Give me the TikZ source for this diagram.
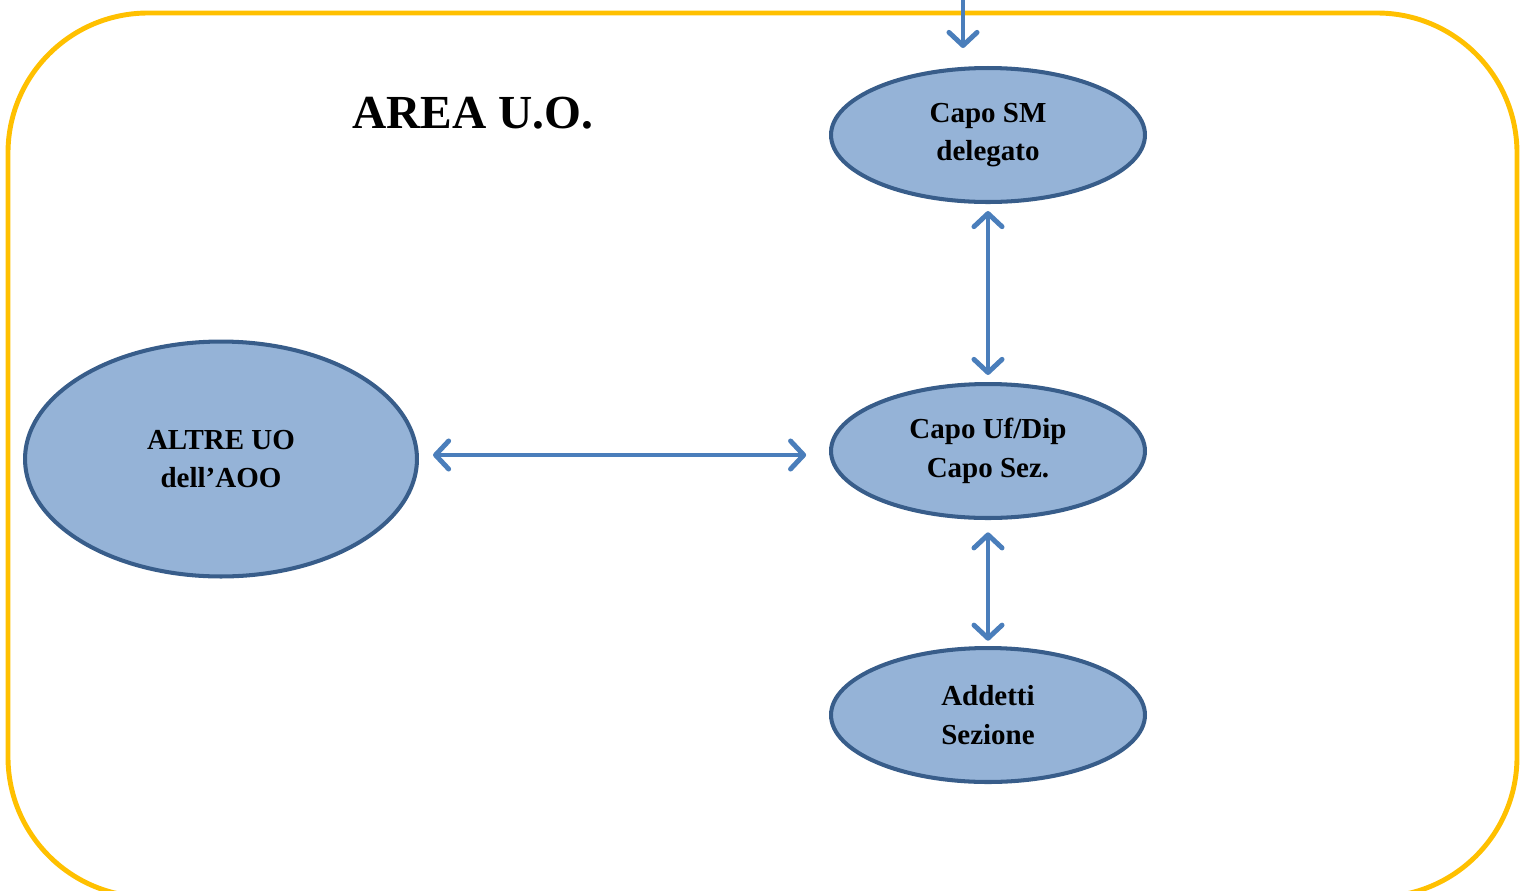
\documentclass[tikz,border=0pt]{standalone}
\usepackage{fontspec}
\setmainfont{Liberation Serif}
\usepackage{xcolor}
\usetikzlibrary{shapes.geometric, positioning, arrows.meta}

\definecolor{fillblu}{HTML}{95B3D7}
\definecolor{bordoblu}{HTML}{385D8A}
\definecolor{frecciablu}{HTML}{4A7EBB}
\definecolor{giallo}{HTML}{FFC000}

\begin{document}
\begin{tikzpicture}[x=0.02cm, y=-0.02cm]
                \tikzset{
                  ruolo/.style={
                    ellipse,
                    draw=bordoblu,
                    line width=2.3pt,
                    fill=fillblu,
                    align=center,
                    font=\bfseries\fontsize{16.5}{22}\selectfont,
                    minimum width=6.28cm, % larghezza ellisse
                    minimum height=2.68cm, % altezza ellisse
                  },
                  punta/.tip={Straight Barb[round, length=7.5pt, width=16pt]},
                  freccia/.style={
                    draw=frecciablu,
                    line width=2.8pt,
                    punta-punta,
                  },
                  frecciaIn/.style={
                    draw=frecciablu,
                    line width=2.8pt,
                    -punta,
                  },
                }

                \useasboundingbox (0,0) rectangle (1522,890);

                % area
                \draw[giallo, line width=2.8pt, rounded corners=2.8cm] (8,13) rectangle (1517,897);
                \node[font=\bfseries\fontsize{27}{30}\selectfont] (titolo) at (473,113) {AREA U.O.};

                % ruoli
                \node[ruolo] (capoSM) at (988,135) {Capo SM\\delegato};
                \node[ruolo] (capoUf) at (988,451) {Capo Uf/Dip\\Capo Sez.};
                \node[ruolo] (addetti) at (988,715) {Addetti\\Sezione};
                \node[ruolo, minimum width=7.84cm, minimum height=4.7cm] (altre) at (221,459) {ALTRE UO\\dell’AOO};

                % frecce
                \coordinate (ingresso) at (963,-5);
                \draw[frecciaIn, shorten >=0.36cm] (ingresso) -- (ingresso |- capoSM.north);
                \draw[freccia, shorten <=4pt, shorten >=4pt] (capoSM) -- (capoUf);
                \draw[freccia, shorten <=7pt, shorten >=3pt] (capoUf) -- (addetti);
                \draw[freccia, shorten <=8pt, shorten >=13pt] (altre.east |- 0,455) -- (capoUf.west |- 0,455);
              \end{tikzpicture}
\end{document}
